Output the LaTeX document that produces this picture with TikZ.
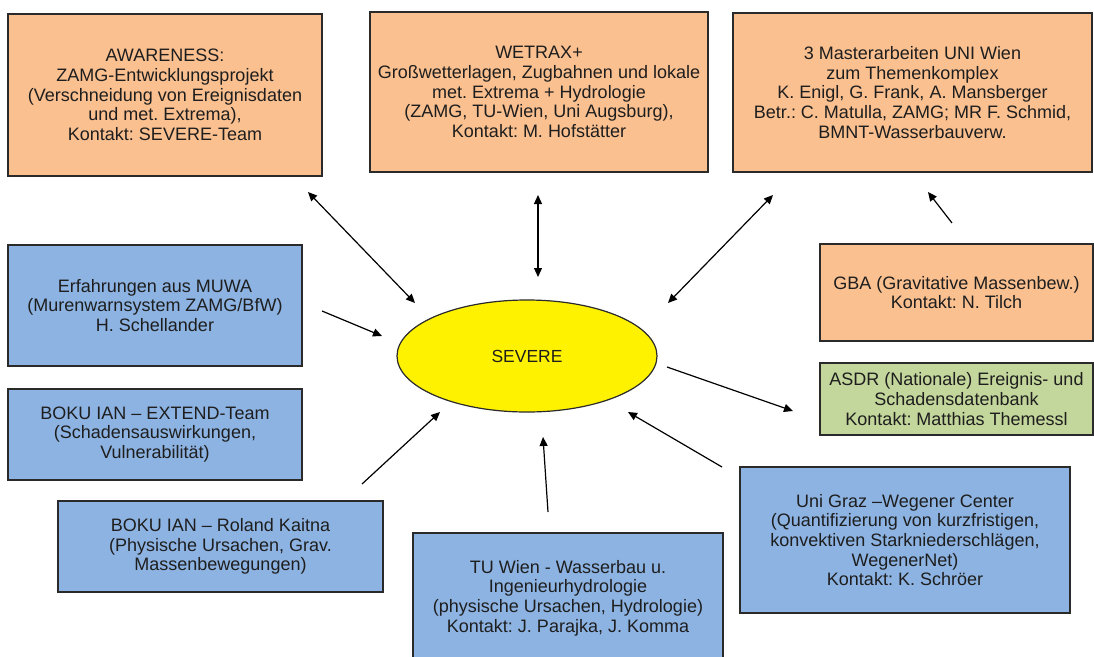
\documentclass[tikz,border=0pt]{standalone}
\usepackage{fontspec}
\setmainfont{Liberation Sans}
\usetikzlibrary{arrows.meta,shapes.geometric}
\definecolor{boxorange}{HTML}{FAC090}
\definecolor{boxblue}{HTML}{8DB3E2}
\definecolor{boxgreen}{HTML}{C3D69B}
\definecolor{edgegray}{HTML}{2A2A2A}
\definecolor{txt}{HTML}{1E1E1E}
\frenchspacing
\tikzset{
  box/.style={draw=edgegray, line width=1.2pt, rectangle, align=center, inner sep=0pt,
    font=\fontsize{18}{19.6}\selectfont, text=txt},
  obox/.style={box, fill=boxorange},
  bbox/.style={box, fill=boxblue},
  gbox/.style={box, fill=boxgreen},
  conn/.style={line width=1.2pt, -{Triangle[length=9pt,width=8pt]}},
  dconn/.style={line width=1.2pt, {Triangle[length=9pt,width=8pt]}-{Triangle[length=9pt,width=8pt]}},
}
\begin{document}
\begin{tikzpicture}[x=1pt,y=-1pt]
\useasboundingbox (0,0) rectangle (1094,656);
\clip (0,0) rectangle (1094,656);
\fill[white] (0,0) rectangle (1094,656);

\node[obox, minimum width=314pt, minimum height=162pt] (aw) at (165,95)
  {AWARENESS:\\ZAMG-Entwicklungsprojekt\\(Verschneidung von Ereignisdaten\\und met. Extrema),\\Kontakt: SEVERE-Team};
\node[obox, minimum width=338pt, minimum height=160pt] (we) at (539,92)
  {WETRAX+\\Großwetterlagen, Zugbahnen und lokale\\met. Extrema + Hydrologie\\(ZAMG, TU-Wien, Uni Augsburg),\\Kontakt: M. Hofstätter};
\node[obox, minimum width=359pt, minimum height=159pt] (ma) at (912.5,92.5)
  {3 Masterarbeiten UNI Wien\\zum Themenkomplex\\K. Enigl, G. Frank, A. Mansberger\\Betr.: C. Matulla, ZAMG; MR F. Schmid,\\BMNT-Wasserbauverw.};
\node[bbox, minimum width=294pt, minimum height=121pt] (mu) at (155,305.5)
  {Erfahrungen aus MUWA\\(Murenwarnsystem ZAMG/BfW)\\H. Schellander};
\node[bbox, minimum width=294pt, minimum height=91pt] (ex) at (155,434.5)
  {BOKU IAN -- EXTEND-Team\\(Schadensauswirkungen,\\Vulnerabilität)};
\node[bbox, minimum width=325pt, minimum height=91pt] (ka) at (220.5,546.5)
  {BOKU IAN -- Roland Kaitna\\(Physische Ursachen, Grav.\\Massenbewegungen)};
\node[obox, minimum width=273pt, minimum height=97pt] (gb) at (956.5,292.5)
  {GBA (Gravitative Massenbew.)\\Kontakt: N. Tilch};
\node[gbox, minimum width=273pt, minimum height=72pt] (as) at (956.5,399)
  {ASDR (Nationale) Ereignis- und\\Schadensdatenbank\\Kontakt: Matthias Themessl};
\node[bbox, minimum width=330pt, minimum height=146pt] (gr) at (905,540)
  {Uni Graz --Wegener Center\\(Quantifizierung von kurzfristigen,\\konvektiven Starkniederschlägen,\\WegenerNet)\\Kontakt: K. Schröer};
\node[bbox, minimum width=310pt, minimum height=130pt] (tu) at (568,598)
  {TU Wien - Wasserbau u.\\Ingenieurhydrologie\\(physische Ursachen, Hydrologie)\\Kontakt: J. Parajka, J. Komma};

\node[ellipse, draw=edgegray, line width=1.2pt, fill=yellow, minimum width=260pt, minimum height=112pt,
  inner sep=0pt, text=txt, font=\fontsize{17.5}{20}\selectfont] (sv) at (527,356) {SEVERE};

% free arrow ends
\coordinate (a1s) at (308,192);  \coordinate (a1e) at (415,303);
\coordinate (a2s) at (538,195);  \coordinate (a2e) at (538,277);
\coordinate (a3s) at (773,195);  \coordinate (a3e) at (668,303);
\coordinate (a4s) at (952,223);  \coordinate (a4e) at (928,192);
\coordinate (a5s) at (322,311);  \coordinate (a5e) at (382,336);
\coordinate (a6s) at (667,367);  \coordinate (a6e) at (793,411);
\coordinate (a7s) at (362,484);  \coordinate (a7e) at (440,412);
\coordinate (a8s) at (548,512);  \coordinate (a8e) at (543,437);
\coordinate (a9s) at (722,467);  \coordinate (a9e) at (628,412);

\draw[dconn] (a1s) -- (a1e);
\draw[dconn] (a2s) -- (a2e);
\draw[dconn] (a3s) -- (a3e);
\draw[conn] (a4s) -- (a4e);
\draw[conn] (a5s) -- (a5e);
\draw[conn] (a6s) -- (a6e);
\draw[conn] (a7s) -- (a7e);
\draw[conn] (a8s) -- (a8e);
\draw[conn] (a9s) -- (a9e);
\end{tikzpicture}
\end{document}
